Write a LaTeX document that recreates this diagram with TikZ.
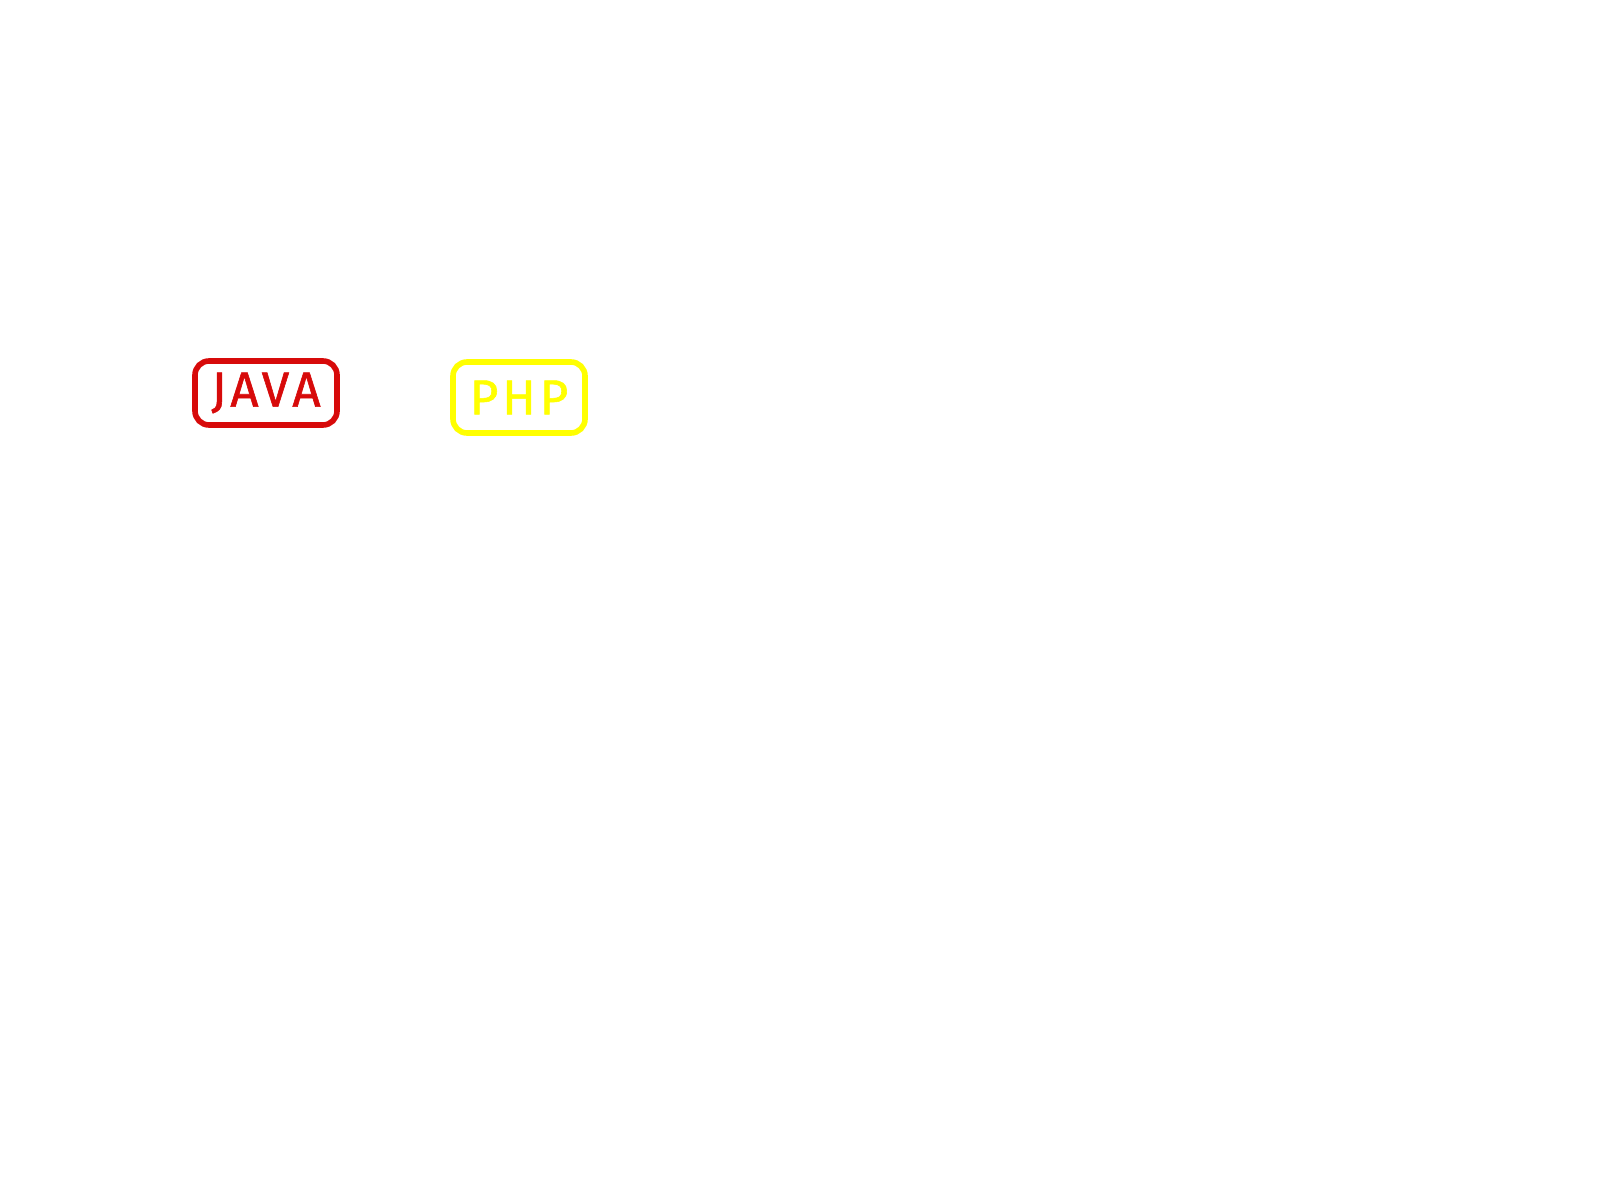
\documentclass[tikz,border=0pt]{standalone}
\usepackage{fontspec}
\setmainfont{Fira Sans}
\definecolor{javared}{HTML}{D70A0A}
\definecolor{phpyellow}{HTML}{FFFF00}
\begin{document}
\begin{tikzpicture}
\useasboundingbox (0,0) rectangle (16,12);
\tikzset{
  langbox/.style={draw, line width=1.6pt, rounded corners=4pt, inner sep=0pt, font=\fontsize{14}{16}\selectfont\addfontfeatures{LetterSpace=8,FakeBold=1.2}}
}
\node[langbox, draw=javared, text=javared, minimum width=1.42cm, minimum height=0.64cm] (java) at (2.66,8.07) {JAVA};
\node[langbox, draw=phpyellow, text=phpyellow, minimum width=1.32cm, minimum height=0.71cm] (php) at (5.19,8.025) {PHP};
\end{tikzpicture}
\end{document}
